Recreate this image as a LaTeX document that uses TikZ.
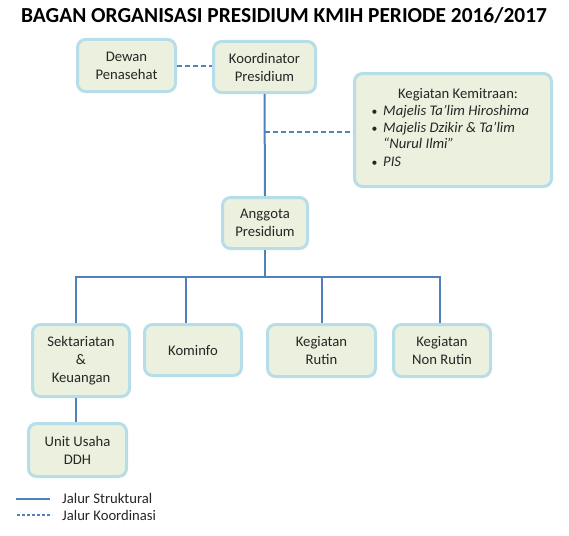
\documentclass[tikz,border=0pt]{standalone}
\usepackage{fontspec}
\setmainfont{Carlito}
\definecolor{boxfill}{HTML}{EBF1DE}
\definecolor{boxline}{HTML}{B7DDE8}
\definecolor{conn}{HTML}{4F81BD}
\definecolor{txt}{HTML}{262626}
\tikzset{
  orgbox/.style={draw=boxline, fill=boxfill, line width=3pt, rounded corners=8pt,
    align=center, inner sep=0pt, text=txt, font=\fontsize{14.67}{18}\selectfont},
  struct/.style={draw=conn, line width=2pt},
  coord/.style={draw=conn, line width=2pt, dash pattern=on 5pt off 3pt},
  plain/.style={inner sep=0pt, text=txt, font=\fontsize{14.67}{18}\selectfont},
}
\begin{document}
\begin{tikzpicture}[x=1pt,y=-1pt]
\useasboundingbox (0,0) rectangle (569,535);
\node[inner sep=0pt, font=\fontsize{21.4}{24}\bfseries\selectfont] (title) at (284,15) {BAGAN ORGANISASI PRESIDIUM KMIH PERIODE 2016/2017};

\node[orgbox, minimum width=98pt, minimum height=52pt] (dewan) at (126.5,65.5) {Dewan\\Penasehat};
\node[orgbox, minimum width=102pt, minimum height=51pt] (koord) at (264.5,67) {Koordinator\\Presidium};
\node[orgbox, minimum width=197pt, minimum height=113pt] (kemit) at (453,130) {};
\node[orgbox, minimum width=85pt, minimum height=51pt] (anggota) at (265,223) {Anggota\\Presidium};
\node[orgbox, minimum width=97pt, minimum height=72pt] (sekt) at (81,360.5) {Sektariatan\\\&\\Keuangan};
\node[orgbox, minimum width=97pt, minimum height=51pt] (kominfo) at (193,350) {Kominfo};
\node[orgbox, minimum width=108pt, minimum height=52pt] (rutin) at (321.5,350.5) {Kegiatan\\Rutin};
\node[orgbox, minimum width=97pt, minimum height=52pt] (nonrutin) at (442,350.5) {Kegiatan\\Non Rutin};
\node[orgbox, minimum width=98pt, minimum height=53pt] (unit) at (77.5,450) {Unit Usaha\\DDH};

% Kemitraan texts
\node[plain, anchor=base] (k0) at (458,98) {Kegiatan Kemitraan:};
\node[plain, anchor=base] (b1) at (374.5,115) {\scalebox{0.8}{\textbullet}};
\node[plain, anchor=base west] (k1) at (383,115) {\itshape Majelis Ta’lim Hiroshima};
\node[plain, anchor=base] (b2) at (374.5,132) {\scalebox{0.8}{\textbullet}};
\node[plain, anchor=base west] (k2) at (383,132) {\itshape Majelis Dzikir \& Ta’lim};
\node[plain, anchor=base west] (k3) at (383,148.5) {\itshape “Nurul Ilmi”};
\node[plain, anchor=base] (b4) at (374.5,166) {\scalebox{0.8}{\textbullet}};
\node[plain, anchor=base west] (k4) at (383,166) {\itshape PIS};

% connectors
\coordinate (j1) at (265,132);
\coordinate (bus) at (265,277);
\coordinate (bL) at (76,277);
\coordinate (bK) at (186,277);
\coordinate (bR) at (322,277);
\coordinate (bN) at (440,277);
\draw[coord] (dewan.east) -- (koord.west |- dewan.east);
\draw[struct] (koord.south) -- (anggota.north);
\draw[coord] (j1) -- (kemit.west |- j1);
\draw[struct] (anggota.south) -- (bus);
\draw[struct, line cap=rect] (bL) -- (bN);
\draw[struct] (bL) -- (bL |- sekt.north);
\draw[struct] (bK) -- (bK |- kominfo.north);
\draw[struct] (bR) -- (bR |- rutin.north);
\draw[struct] (bN) -- (bN |- nonrutin.north);
\draw[struct] (bL |- sekt.south) -- (bL |- unit.north);

% legend
\coordinate (l1a) at (16,499);
\coordinate (l1b) at (50,499);
\coordinate (l2a) at (17,515);
\coordinate (l2b) at (52,515);
\draw[struct] (l1a) -- (l1b);
\draw[coord, line width=1.3pt, dash pattern=on 3pt off 2pt] (l2a) -- (l2b);
\node[plain, anchor=west] (leg1) at (62,498) {Jalur Struktural};
\node[plain, anchor=west] (leg2) at (62,515) {Jalur Koordinasi};
\end{tikzpicture}
\end{document}
